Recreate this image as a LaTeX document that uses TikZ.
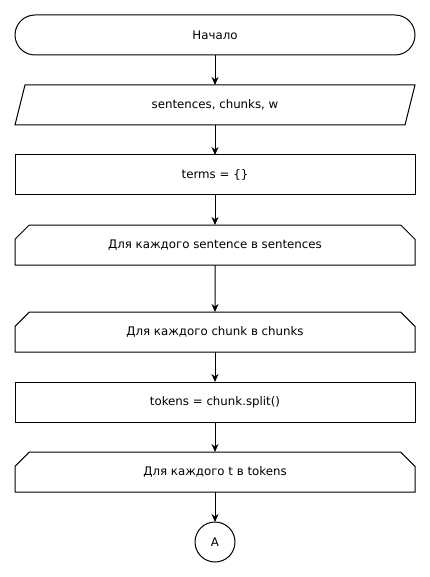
\documentclass[tikz,border=0pt]{standalone}
\usepackage{fontspec}
\setmainfont{DejaVu Sans}
\usepackage{tikz}
\usetikzlibrary{arrows.meta, positioning, shapes.misc}

\begin{document}
\begin{tikzpicture}[x=1pt, y=1pt, line width=1pt, node distance=30pt,
    every node/.style={font=\fontsize{11.8pt}{14pt}\selectfont, outer sep=0pt},
    startbox/.style={draw, rectangle, rounded corners=20pt, minimum width=400pt, minimum height=40pt},
    iobox/.style={rectangle, minimum width=400pt, minimum height=40pt},
    procbox/.style={draw, rectangle, minimum width=400pt, minimum height=40pt},
    loopbox/.style={draw, chamfered rectangle, chamfered rectangle corners={north west, north east},
        chamfered rectangle xsep=9pt, chamfered rectangle ysep=9pt, inner sep=0pt,
        minimum width=400pt, minimum height=40pt},
    connbox/.style={draw, circle, minimum size=40pt, inner sep=0pt},
    flow/.style={-{Stealth[length=8pt, width=7pt, inset=2.5pt]}}]
    \useasboundingbox (0,0) rectangle (430,-577);
    \node[startbox] (start) at (215,-35) {Начало};
    \node[iobox, below=of start] (input) {sentences, chunks, w};
    \draw (input.south west) -- ([xshift=10pt]input.north west) -- (input.north east)
        -- ([xshift=-10pt]input.south east) -- cycle;
    \node[procbox, below=of input] (terms) {terms = \{\}};
    \node[loopbox, below=of terms] (loopsent) {Для каждого sentence в sentences};
    \node[loopbox, below=47pt of loopsent] (loopchunk) {Для каждого chunk в chunks};
    \node[procbox, below=of loopchunk] (tokens) {tokens = chunk.split()};
    \node[loopbox, below=of tokens] (looptok) {Для каждого t в tokens};
    \node[connbox, below=of looptok] (conA) {A};
    \draw[flow] (start) -- (input);
    \draw[flow] (input) -- (terms);
    \draw[flow] (terms) -- (loopsent);
    \draw[flow] (loopsent) -- (loopchunk);
    \draw[flow] (loopchunk) -- (tokens);
    \draw[flow] (tokens) -- (looptok);
    \draw[flow] (looptok) -- (conA);
\end{tikzpicture}
\end{document}
